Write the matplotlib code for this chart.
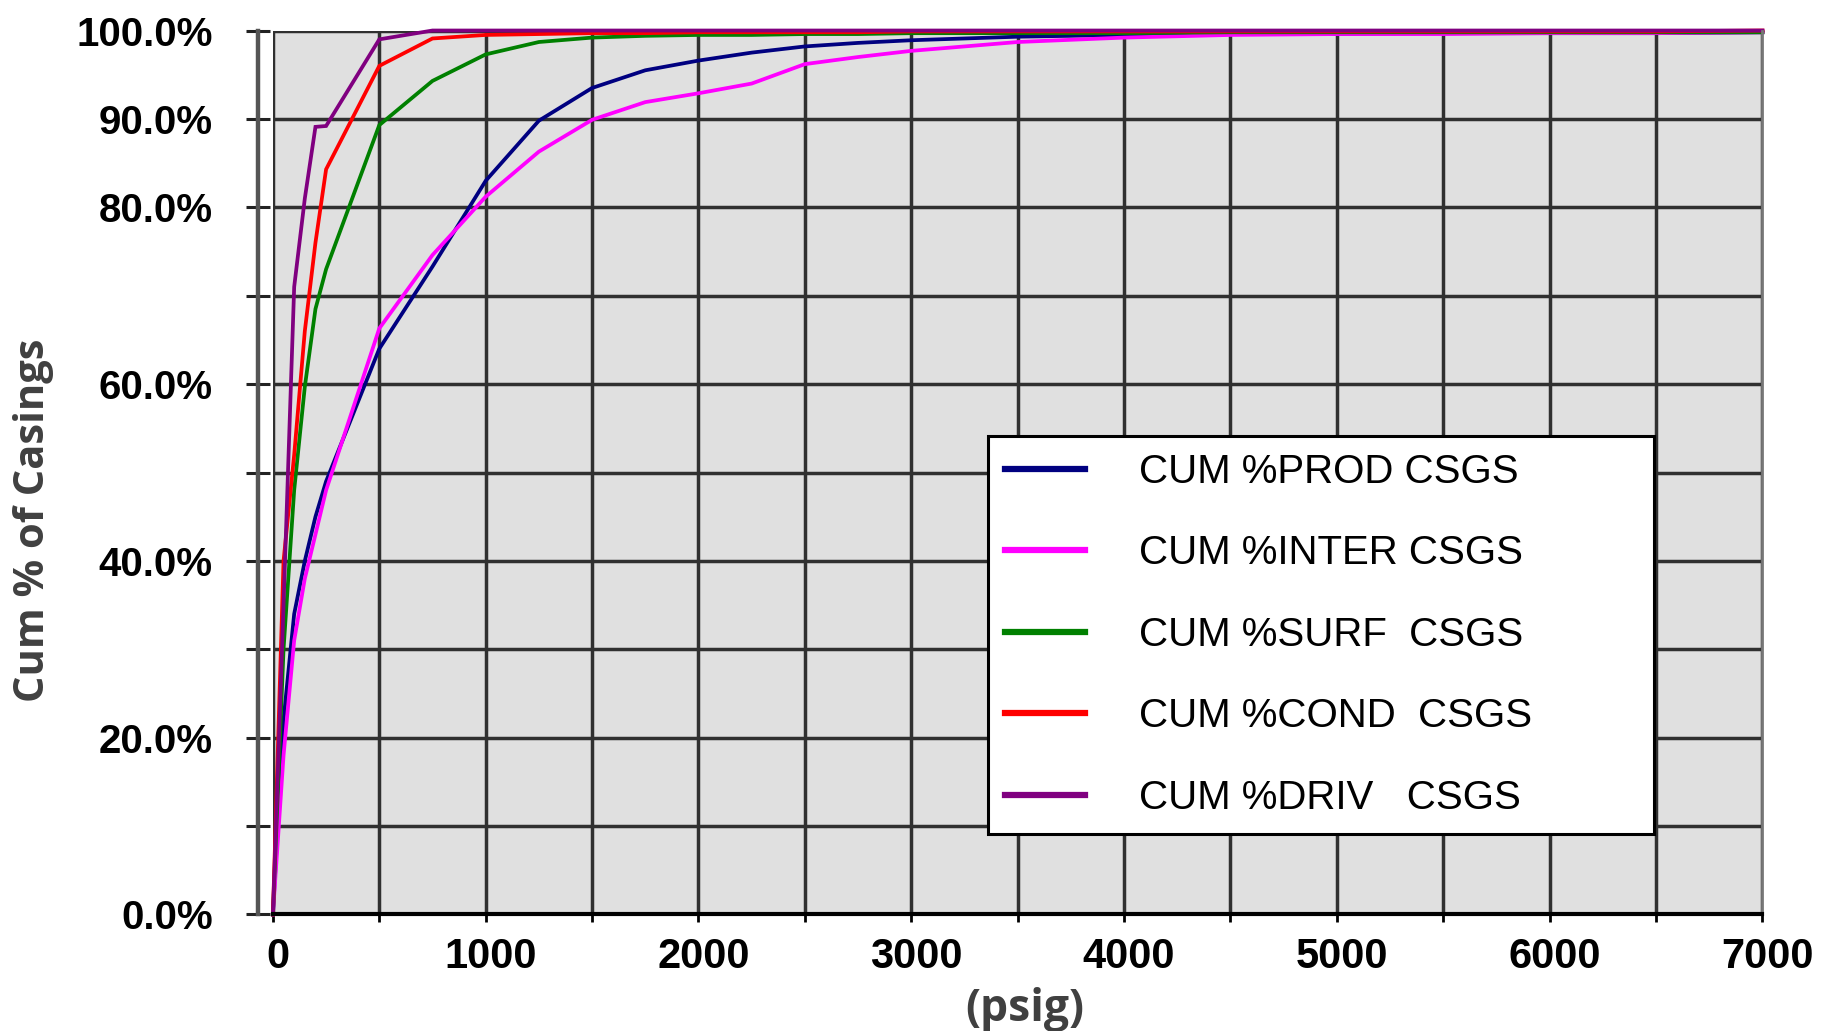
import matplotlib
matplotlib.use("Agg")
import matplotlib.pyplot as plt
import matplotlib.transforms as mtransforms
from matplotlib.ticker import FixedLocator, MultipleLocator

# pressure bins (psig) and cumulative % of casings for each casing type
pressure = [0, 50, 100, 150, 200, 250, 500, 750, 1000, 1250, 1500, 1750, 2000,
            2250, 2500, 2750, 3000, 3500, 4000, 4500, 5000, 5500, 6000, 6500, 7000]

cum_prod = [0, 22, 34, 40, 45, 49, 64, 73.3, 83, 89.8, 93.5, 95.5, 96.6,
            97.5, 98.2, 98.6, 98.9, 99.3, 99.5, 99.6, 99.6, 99.7, 99.7, 99.7, 99.8]
cum_inter = [0, 18, 31, 38, 43, 48, 66.3, 74.6, 81.2, 86.3, 89.9, 91.9, 92.9,
             94.0, 96.2, 97.0, 97.7, 98.7, 99.2, 99.5, 99.6, 99.6, 99.7, 99.7, 99.8]
cum_surf = [0, 30, 48, 59.7, 68.5, 73, 89.3, 94.3, 97.3, 98.7, 99.2, 99.4, 99.5,
            99.5, 99.6, 99.6, 99.7, 99.7, 99.7, 99.8, 99.8, 99.8, 99.8, 99.8, 99.8]
cum_cond = [0, 40, 52, 66, 76, 84.3, 96, 99.1, 99.5, 99.6, 99.7, 99.7, 99.8,
            99.8, 99.8, 99.8, 99.9, 99.9, 99.9, 99.9, 99.9, 99.9, 99.9, 99.9, 100]
cum_driv = [0, 35, 71, 81, 89.1, 89.2, 99, 100, 100, 100, 100, 100, 100,
            100, 100, 100, 100, 100, 100, 100, 100, 100, 100, 100, 100]

series = [cum_prod, cum_inter, cum_surf, cum_cond, cum_driv]
series_names = ["CUM %PROD CSGS", "CUM %INTER CSGS", "CUM %SURF  CSGS",
                "CUM %COND  CSGS", "CUM %DRIV   CSGS"]
series_colors = ["#000080", "#FF00FF", "#008000", "#FF0000", "#800080"]

x_ticks = [0, 1000, 2000, 3000, 4000, 5000, 6000, 7000]
y_ticks = [0, 10, 20, 30, 40, 50, 60, 70, 80, 90, 100]
y_tick_labels = ["0.0%", "", "20.0%", "", "40.0%", "", "60.0%", "", "80.0%",
                 "90.0%", "100.0%"]

fig = plt.figure(figsize=(18.34, 10.31), dpi=100)
ax = fig.add_axes([0.1488, 0.1130, 0.8122, 0.8574])
ax.set_facecolor("#E0E0E0")

for vals, name, col in zip(series, series_names, series_colors):
    ax.plot(pressure, vals, color=col, lw=2.7, label=name, clip_on=False,
            solid_joinstyle="miter")

ax.set_xlim(0, 7000)
ax.set_ylim(0, 100)

ax.xaxis.set_major_locator(FixedLocator(x_ticks))
ax.xaxis.set_minor_locator(MultipleLocator(500))
ax.yaxis.set_major_locator(FixedLocator(y_ticks))
ax.set_yticklabels(y_tick_labels)
ax.set_xticklabels([str(v) for v in x_ticks])

ax.set_axisbelow(True)
ax.grid(True, which="both", axis="x", color="#303030", lw=2.5)
ax.grid(True, which="major", axis="y", color="#303030", lw=2.5)

ax.spines["left"].set_position(("outward", 10.8))
ax.spines["left"].set_color("#555555")
ax.spines["left"].set_linewidth(3.2)
ax.spines["bottom"].set_color("black")
ax.spines["bottom"].set_linewidth(3)
ax.spines["top"].set_visible(False)
ax.spines["right"].set_color("#777777")
ax.spines["right"].set_linewidth(2)

ax.tick_params(axis="x", which="both", direction="out", length=6, width=2,
               color="black", pad=10)
ax.tick_params(axis="y", direction="inout", length=17, width=2.2,
               color="#222222", pad=24)

for lbl in ax.get_xticklabels():
    lbl.set_fontfamily("Liberation Sans")
    lbl.set_fontweight("bold")
    lbl.set_fontsize(30)
for lbl in ax.get_yticklabels():
    lbl.set_fontfamily("Liberation Sans")
    lbl.set_fontweight("bold")
    lbl.set_fontsize(29)

ax.set_ylabel("Cum % of Casings", family="Open Sans", fontweight="bold",
              fontsize=30, color="#404040")
ax.yaxis.label.set(va="center", rotation_mode="default")
ax.yaxis.set_label_coords(-0.1610, 0.446)

ax.set_xlabel("(psig)", family="Open Sans", fontweight="bold", fontsize=32,
              color="#404040")
ax.xaxis.label.set(va="center")
ax.xaxis.set_label_coords(0.505, -0.108)

leg = ax.legend(loc="upper left", bbox_to_anchor=(0.480, 0.099, 0.447, 0.4423),
                mode="expand", borderaxespad=0, fancybox=False, framealpha=1,
                facecolor="white", edgecolor="black", borderpad=0.42,
                labelspacing=1.08, handlelength=2.0, handletextpad=1.34,
                prop={"family": "Liberation Sans", "size": 29})
leg.get_frame().set_linewidth(2.2)
for line in leg.get_lines():
    line.set_linewidth(4.5)

fig.canvas.draw()
shift = mtransforms.ScaledTranslation(0.05, 0, fig.dpi_scale_trans)
for lbl in ax.get_xticklabels():
    lbl.set_transform(lbl.get_transform() + shift)

fig.savefig("out.png", dpi=100, facecolor="white")
